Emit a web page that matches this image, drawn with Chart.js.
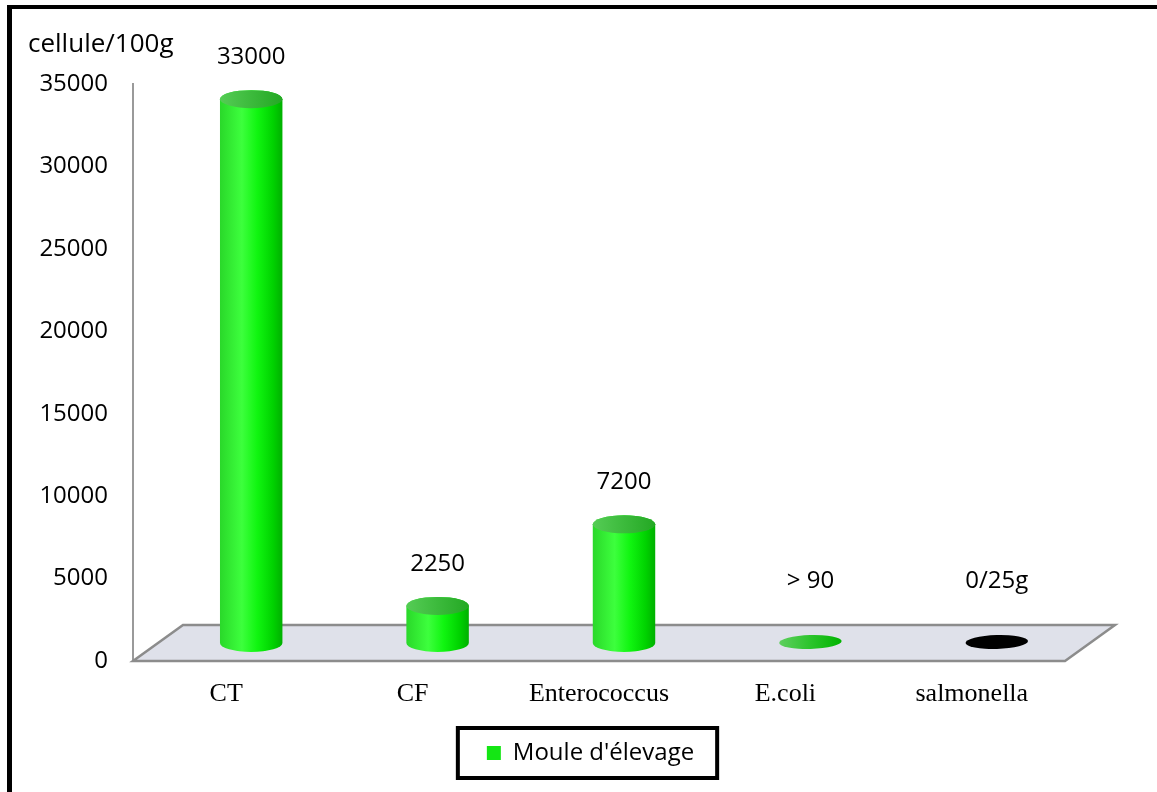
<!DOCTYPE html>
<html>
<head>
<meta charset="utf-8">
<script src="https://cdn.jsdelivr.net/npm/chart.js@4.4.1/dist/chart.umd.min.js"></script>
<style>
  html, body { margin: 0; padding: 0; background: #fff; }
  #wrap { width: 1157px; height: 792px; position: relative; }
</style>
</head>
<body>
<div id="wrap"><canvas id="bacteria"></canvas></div>
<script>
const categories = ['CT', 'CF', 'Enterococcus', 'E.coli', 'salmonella'];
const counts = [33000, 2250, 7200, 90, 0];
const countLabels = ['33000', '2250', '7200', '> 90', '0/25g'];
const seriesName = "Moule d'élevage";
const unitLabel = 'cellule/100g';
const yMax = 35000;
const yStep = 5000;

// fake 3d depth of the floor (cylinders sit half way back)
const DEPTH_X = 50;
const DEPTH_Y = -36;
// legend sits a bit right of the plot centre
const LEGEND_SHIFT = 44;

const GREEN = '#14e614';
const sans = '"Open Sans", sans-serif';
const serif = '"Liberation Serif", "Times New Roman", serif';

function hGradient(ctx, x0, x1, stops) {
    const g = ctx.createLinearGradient(x0, 0, x1, 0);
    stops.forEach(s => g.addColorStop(s[0], s[1]));
    return g;
}

function drawCylinder(ctx, cx, topY, baseY, rx, ry) {
    // body
    ctx.beginPath();
    ctx.moveTo(cx - rx, topY);
    ctx.lineTo(cx - rx, baseY);
    ctx.ellipse(cx, baseY, rx, ry, 0, Math.PI, 0, true);
    ctx.lineTo(cx + rx, topY);
    ctx.ellipse(cx, topY, rx, ry, 0, 0, Math.PI, true);
    ctx.closePath();
    ctx.fillStyle = hGradient(ctx, cx - rx, cx + rx, [
        [0, '#2ad82a'], [0.35, '#3dff3d'], [0.6, '#10f510'], [0.85, '#00d200'], [1, '#00b000']
    ]);
    ctx.fill();
    // lid
    ctx.beginPath();
    ctx.ellipse(cx, topY, rx, ry, 0, 0, Math.PI * 2);
    ctx.fillStyle = hGradient(ctx, cx - rx, cx + rx, [
        [0, '#55cc55'], [0.5, '#3cba3c'], [1, '#24a824']
    ]);
    ctx.fill();
}

function drawDisc(ctx, cx, y, rx, ry, dark) {
    ctx.beginPath();
    ctx.ellipse(cx, y, rx, ry, -0.03, 0, Math.PI * 2);
    ctx.fillStyle = dark ? '#000' : hGradient(ctx, cx - rx, cx + rx, [
        [0, '#5fcf5f'], [0.5, '#2cc42c'], [1, '#00b400']
    ]);
    ctx.fill();
}

const framePlugin = {
    id: 'frame',
    beforeDraw(chart) {
        const ctx = chart.ctx;
        ctx.save();
        ctx.fillStyle = '#fff';
        ctx.fillRect(0, 0, chart.width, chart.height);
        ctx.fillStyle = '#000';
        ctx.fillRect(7, 5, chart.width - 7, 4);
        ctx.fillRect(7, 5, 5, chart.height - 5);
        ctx.restore();
    }
};

const floorPlugin = {
    id: 'floor',
    afterLayout(chart) {
        chart.legend.left += LEGEND_SHIFT;
        chart.legend.right += LEGEND_SHIFT;
    },
    beforeDatasetsDraw(chart) {
        const {ctx, chartArea: a} = chart;
        ctx.save();
        ctx.beginPath();
        ctx.moveTo(a.left, a.bottom);
        ctx.lineTo(a.right, a.bottom);
        ctx.lineTo(a.right + DEPTH_X, a.bottom + DEPTH_Y);
        ctx.lineTo(a.left + DEPTH_X, a.bottom + DEPTH_Y);
        ctx.closePath();
        ctx.fillStyle = '#dfe1ea';
        ctx.fill();
        ctx.strokeStyle = '#8c8c8c';
        ctx.lineWidth = 2.5;
        ctx.stroke();
        ctx.restore();
    },
    beforeDatasetDraw() {
        // plain bars are replaced by cylinders below
        return false;
    },
    afterDatasetsDraw(chart) {
        const ctx = chart.ctx;
        const meta = chart.getDatasetMeta(0);
        ctx.save();
        meta.data.forEach((bar, i) => {
            const cx = bar.x + DEPTH_X / 2;
            const topY = bar.y + DEPTH_Y / 2;
            const baseY = bar.base + DEPTH_Y / 2;
            const rx = bar.width / 2;
            if (baseY - topY < 3) {
                drawDisc(ctx, cx, baseY - 1, rx, 7, categories[i] === 'salmonella');
            } else {
                drawCylinder(ctx, cx, topY, baseY, rx, 9);
            }
            ctx.fillStyle = '#000';
            ctx.font = '24px ' + sans;
            ctx.textAlign = 'center';
            ctx.textBaseline = 'middle';
            ctx.fillText(countLabels[i], cx, Math.min(topY - 42, baseY - 62));
        });
        ctx.restore();
    },
    afterDraw(chart) {
        const hb = chart.legend.legendHitBoxes[0];
        if (!hb) return;
        const ctx = chart.ctx;
        const cy = hb.top + hb.height / 2;
        ctx.save();
        ctx.strokeStyle = '#000';
        ctx.lineWidth = 4;
        ctx.strokeRect(hb.left - 29, cy - 25, hb.width + 52, 50);
        ctx.restore();
    }
};

new Chart(document.getElementById('bacteria'), {
    type: 'bar',
    data: {
        labels: categories,
        datasets: [{
            label: seriesName,
            data: counts,
            backgroundColor: GREEN,
            barPercentage: 0.67,
            categoryPercentage: 0.5
        }]
    },
    options: {
        responsive: true,
        maintainAspectRatio: false,
        animation: false,
        layout: {
            padding: { left: 28, right: 92, top: 0, bottom: 17 }
        },
        scales: {
            x: {
                grid: { display: false, drawTicks: false },
                border: { display: false },
                ticks: { color: '#000', font: { family: serif, size: 26 }, padding: 18 },
                afterFit(scale) { scale.height = 70; }
            },
            y: {
                min: 0,
                max: yMax,
                grid: { display: false, drawTicks: false },
                border: { display: true, color: '#9a9a9a', width: 2 },
                ticks: {
                    stepSize: yStep,
                    color: '#000',
                    font: { family: sans, size: 24 },
                    padding: 25,
                    callback: v => String(v)
                },
                afterFit(scale) { scale.width = 105; }
            }
        },
        plugins: {
            title: {
                display: true,
                text: unitLabel,
                align: 'start',
                color: '#000',
                font: { family: sans, size: 26, weight: 'normal' },
                padding: { top: 29, bottom: 24 }
            },
            legend: {
                position: 'bottom',
                labels: {
                    color: '#000',
                    font: { family: sans, size: 24 },
                    boxWidth: 14,
                    boxHeight: 14,
                    padding: 10,
                    generateLabels() {
                        return [{ text: seriesName, fillStyle: GREEN, strokeStyle: GREEN, lineWidth: 0, hidden: false, datasetIndex: 0 }];
                    }
                }
            },
            tooltip: { enabled: false }
        }
    },
    plugins: [framePlugin, floorPlugin]
});
</script>
</body>
</html>
